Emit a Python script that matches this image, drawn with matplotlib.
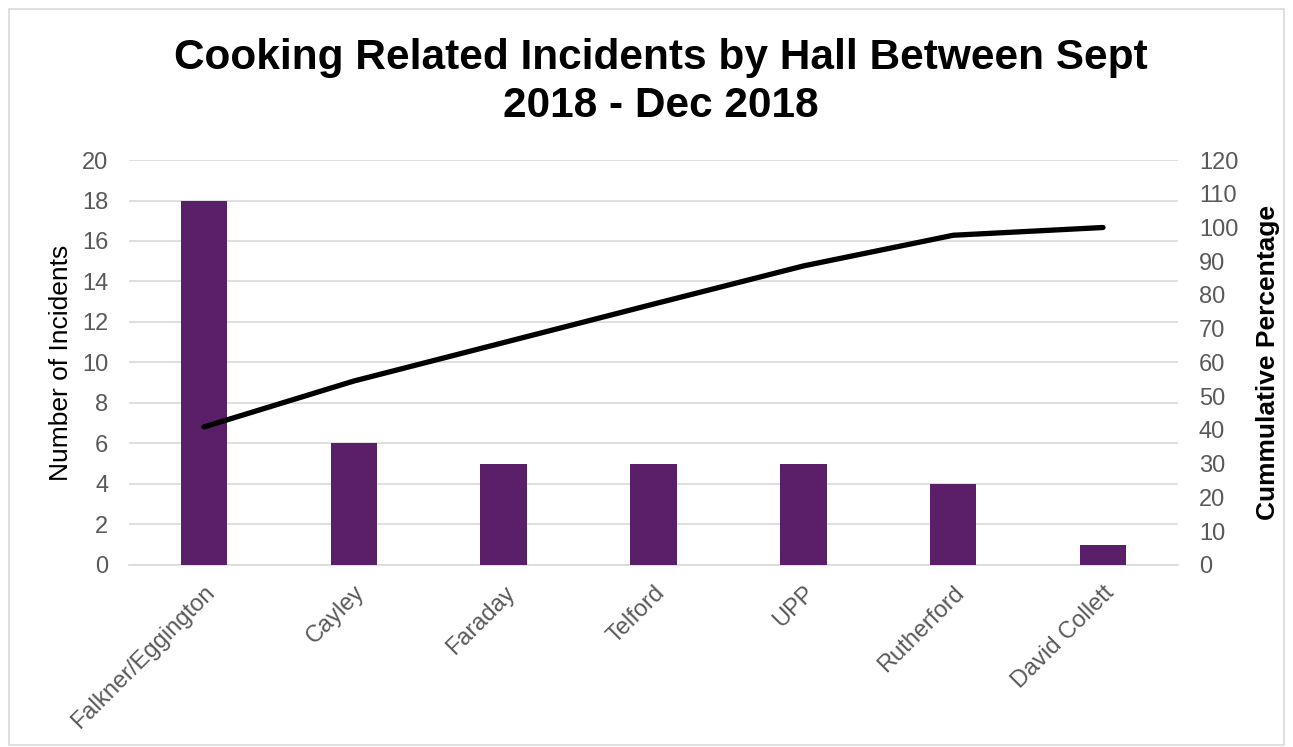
import matplotlib.pyplot as plt
from matplotlib.patches import Rectangle

halls = ["Falkner/Eggington", "Cayley", "Faraday", "Telford", "UPP", "Rutherford", "David Collett"]
incidents = [18, 6, 5, 5, 5, 4, 1]
cumulative_pct = [40.9, 54.5, 65.9, 77.3, 88.6, 97.7, 100.0]

plt.rcParams['font.family'] = ['Liberation Sans', 'DejaVu Sans']

fig = plt.figure(figsize=(12.93, 7.47), dpi=100)
ax = fig.add_axes([0.0998, 0.2437, 0.8112, 0.5421])

# light border around the whole chart
fig.patches.append(Rectangle((0.007, 0.003), 0.986, 0.985, transform=fig.transFigure,
                             fill=False, edgecolor='#d9d9d9', linewidth=1.2))

x = list(range(len(halls)))
ax.bar(x, incidents, width=0.31, color='#5b1f69', zorder=3)
ax.set_xlim(-0.5, len(halls) - 0.5)
ax.set_ylim(0, 20)
ax.set_yticks(range(0, 21, 2))
ax.grid(axis='y', color='#d9d9d9', linewidth=1.2, zorder=0)
ax.set_axisbelow(True)
for s in ax.spines.values():
    s.set_visible(False)
ax.spines['bottom'].set_visible(True)
ax.spines['bottom'].set_color('#d9d9d9')
ax.spines['bottom'].set_linewidth(1.2)
ax.tick_params(axis='y', length=0, labelsize=17, labelcolor='#595959', pad=15)
ax.tick_params(axis='x', length=0, labelsize=17, labelcolor='#595959', pad=12)
ax.set_xticks(x)
ax.set_xticklabels(halls, rotation=45, ha='right', rotation_mode='anchor')
ax.set_ylabel("Number of Incidents", fontsize=19, labelpad=6)

ax2 = ax.twinx()
ax2.plot(x, cumulative_pct, color='black', linewidth=3.8, solid_capstyle='round', zorder=4)
ax2.set_ylim(0, 120)
ax2.set_yticks(range(0, 121, 10))
for s in ax2.spines.values():
    s.set_visible(False)
ax2.tick_params(length=0, labelsize=17, labelcolor='#595959', pad=15)
ax2.set_ylabel("Cummulative Percentage", fontsize=19, fontweight='bold', labelpad=13)

fig.suptitle("Cooking Related Incidents by Hall Between Sept\n2018 - Dec 2018",
             fontsize=30.5, fontweight='bold', x=0.511, y=0.949, va='top', linespacing=1.26)

fig.savefig("out.png", dpi=100)
